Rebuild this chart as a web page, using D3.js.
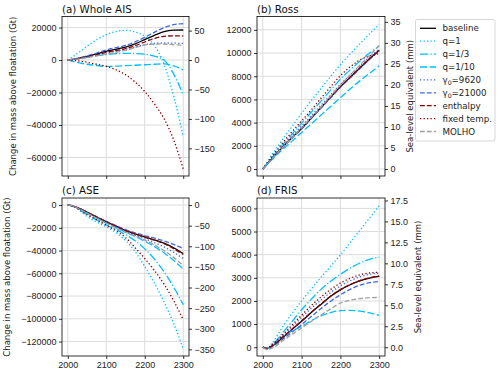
<!DOCTYPE html>
<html>
<head>
<meta charset="utf-8">
<script src="https://cdnjs.cloudflare.com/ajax/libs/d3/7.8.5/d3.min.js"></script>
<style>
    body { margin: 0; background: #fff; }
    svg { font-family: "DejaVu Sans", sans-serif; }
</style>
</head>
<body>
<svg id="chart" width="500" height="374"></svg>
<script>
// model years shared by every run
const years = [2000, 2010, 2025, 2050, 2075, 2100, 2125, 2150, 2175, 2200, 2225, 2250, 2275, 2300];
const series_names = ["baseline", "q=1", "q=1/3", "q=1/10", "γ0=9620", "γ0=21000", "enthalpy", "fixed temp.", "MOLHO"];

// change in mass above floatation (Gt), rows in the order of series_names
const ais = [
    [0, 300, 900, 2300, 3800, 5400, 6600, 8000, 10000, 12600, 15200, 17500, 18400, 18500],
    [0, 1500, 4000, 8500, 12500, 15600, 17500, 18300, 17300, 14600, 9000, -2500, -22000, -47000],
    [0, 300, 800, 1700, 2700, 3400, 3900, 4100, 4000, 3600, 2400, 0, -8500, -21400],
    [0, -600, -1500, -2600, -3400, -3900, -3800, -3500, -3200, -2900, -2600, -2400, -3600, -6000],
    [0, 250, 700, 1800, 3000, 4300, 5400, 6600, 8000, 9400, 10200, 10500, 10400, 10200],
    [0, 350, 1000, 2600, 4300, 6200, 7600, 9000, 11200, 14000, 17000, 20000, 21800, 22400],
    [0, 280, 800, 2000, 3300, 4700, 5800, 7000, 8800, 11100, 13300, 14600, 14900, 14850],
    [0, -150, -500, -1400, -2600, -3900, -6000, -9000, -13500, -19400, -27000, -36000, -49000, -67000],
    [0, 200, 600, 1500, 2600, 3700, 4700, 5900, 7600, 9300, 9800, 9800, 9400, 9100]
];
const ross = [
    [0, 390, 950, 1850, 2700, 3500, 4400, 5300, 6200, 7100, 7900, 8700, 9500, 10250],
    [0, 530, 1300, 2500, 3650, 4800, 5900, 6950, 8000, 9000, 9900, 10800, 11650, 12450],
    [0, 430, 1050, 2050, 3000, 3950, 4900, 5850, 6800, 7750, 8550, 9300, 10000, 10600],
    [0, 350, 850, 1650, 2400, 3150, 3900, 4650, 5400, 6150, 6900, 7600, 8250, 8900],
    [0, 400, 1000, 1950, 2850, 3700, 4600, 5500, 6400, 7300, 8100, 8900, 9650, 10350],
    [0, 380, 920, 1800, 2650, 3450, 4350, 5250, 6150, 7050, 7850, 8650, 9450, 10200],
    [0, 390, 960, 1870, 2720, 3520, 4420, 5320, 6220, 7120, 7920, 8720, 9500, 10200],
    [0, 470, 1150, 2200, 3200, 4150, 5100, 6100, 7100, 8050, 8800, 9400, 9750, 9950],
    [0, 380, 930, 1830, 2700, 3550, 4450, 5350, 6300, 7250, 8100, 8950, 9800, 10650]
];
const ase = [
    [0, -500, -2300, -6300, -10500, -14700, -18500, -22300, -25300, -27900, -30500, -33500, -37500, -42600],
    [0, -700, -3400, -10000, -14800, -19100, -24300, -31000, -41000, -54000, -68500, -85000, -104000, -126400],
    [0, -650, -3000, -8500, -13000, -17500, -21500, -26000, -31400, -38500, -47500, -58500, -72000, -87600],
    [0, -550, -2600, -7000, -11400, -15800, -19800, -23800, -27700, -31800, -36500, -42000, -48700, -56400],
    [0, -500, -2400, -6600, -10900, -15200, -19200, -23200, -26600, -29700, -33000, -36800, -41500, -47000],
    [0, -480, -2250, -6100, -10200, -14300, -18000, -21600, -24400, -26800, -29000, -31500, -34600, -38200],
    [0, -500, -2300, -6300, -10500, -14700, -18600, -22400, -25500, -28200, -30900, -34000, -38300, -43500],
    [0, -650, -3000, -8200, -13000, -17600, -22500, -28500, -37500, -47000, -57500, -69500, -84000, -100800],
    [0, -550, -2600, -7100, -11600, -16000, -20000, -23800, -27300, -30800, -35000, -40000, -46000, -52900]
];
const fris = [
    [0, -60, 60, 400, 760, 1120, 1500, 1850, 2200, 2480, 2700, 2870, 2990, 3060],
    [0, -80, 200, 850, 1450, 2000, 2520, 3020, 3500, 3990, 4520, 5050, 5580, 6110],
    [0, -70, 120, 600, 1100, 1620, 2080, 2500, 2850, 3150, 3420, 3640, 3800, 3890],
    [0, -60, 80, 450, 700, 900, 1150, 1350, 1500, 1580, 1590, 1560, 1480, 1380],
    [0, -50, 100, 480, 880, 1280, 1680, 2040, 2370, 2650, 2870, 3040, 3150, 3200],
    [0, -60, 40, 330, 650, 980, 1330, 1670, 1990, 2270, 2500, 2680, 2790, 2840],
    [0, -50, 70, 420, 780, 1140, 1520, 1870, 2210, 2490, 2710, 2880, 3000, 3070],
    [0, -40, 130, 520, 950, 1380, 1800, 2170, 2500, 2770, 2980, 3130, 3210, 3240],
    [0, -100, -30, 260, 550, 830, 1120, 1400, 1660, 1910, 2030, 2100, 2140, 2150]
];

// axis limits and ticks
const x_lims = [1985, 2315];
const x_ticks = [2000, 2100, 2200, 2300];
const ais_lims = [-71400, 26800];
const ross_lims = [-600, 13150];
const ase_lims = [-132700, 6200];
const fris_lims = [-380, 6450];
const ais_ticks = [-60000, -40000, -20000, 0, 20000];
const ross_ticks = [0, 2000, 4000, 6000, 8000, 10000, 12000];
const ase_ticks = [-120000, -100000, -80000, -60000, -40000, -20000, 0];
const fris_ticks = [0, 1000, 2000, 3000, 4000, 5000, 6000];
const ais_mm_ticks = [-150, -100, -50, 0, 50];
const ross_mm_ticks = [0, 5, 10, 15, 20, 25, 30, 35];
const ase_mm_ticks = [-350, -300, -250, -200, -150, -100, -50, 0];
const fris_mm_ticks = [0, 2.5, 5, 7.5, 10, 12.5, 15, 17.5];
const gt_per_mm = 362.5;

const colours = ["#000000", "#00bfff", "#00bfff", "#00bfff", "#4169e1", "#4169e1", "#8b0000", "#8b0000", "#a0a0a0"];
const dashes = [null, "1.3,2.2", "8.3,2.1,1.3,2.1", "7,2.6", "1.3,2.2", "4.8,2.1", "4.8,2.1", "1.3,2.2", "4.8,2.1"];

const svg = d3.select("#chart");

function drawPanel(p) {
    const x = d3.scaleLinear().domain(x_lims).range([p.left, p.right]);
    const y = d3.scaleLinear().domain(p.lims).range([p.bottom, p.top]);
    const y_mm = d3.scaleLinear().domain([p.lims[0] / gt_per_mm, p.lims[1] / gt_per_mm]).range([p.bottom, p.top]);
    const g = svg.append("g");

    // grid
    g.append("g").selectAll("line").data(x_ticks).enter().append("line")
        .attr("x1", d => x(d)).attr("x2", d => x(d))
        .attr("y1", p.top).attr("y2", p.bottom)
        .attr("stroke", "#dcdcdc").attr("stroke-width", 1);
    g.append("g").selectAll("line").data(p.ticks).enter().append("line")
        .attr("x1", p.left).attr("x2", p.right)
        .attr("y1", d => y(d)).attr("y2", d => y(d))
        .attr("stroke", "#dcdcdc").attr("stroke-width", 1);

    const clip_id = "clip" + p.id;
    svg.append("clipPath").attr("id", clip_id).append("rect")
        .attr("x", p.left).attr("y", p.top)
        .attr("width", p.right - p.left).attr("height", p.bottom - p.top);

    const line = d3.line()
        .x((d, i) => x(years[i]))
        .y(d => y(d))
        .curve(d3.curveMonotoneX);

    g.append("g").attr("clip-path", `url(#${clip_id})`)
        .selectAll("path").data(p.values).enter().append("path")
        .attr("d", d => line(d))
        .attr("fill", "none")
        .attr("stroke", (d, i) => colours[i])
        .attr("stroke-width", 1.3)
        .attr("stroke-dasharray", (d, i) => dashes[i]);

    // axes
    const left_axis = d3.axisLeft(y).tickValues(p.ticks).tickSizeOuter(0).tickSize(3).tickPadding(2.5).tickFormat(d3.format("d"));
    const right_axis = d3.axisRight(y_mm).tickValues(p.mm_ticks).tickSizeOuter(0).tickSize(3).tickPadding(2.5).tickFormat(p.mm_format);
    const bottom_axis = d3.axisBottom(x).tickValues(x_ticks).tickSizeOuter(0).tickSize(3).tickPadding(2.5).tickFormat(p.x_labels ? d3.format("d") : "");

    [g.append("g").attr("transform", `translate(${p.left},0)`).call(left_axis),
        g.append("g").attr("transform", `translate(${p.right},0)`).call(right_axis),
        g.append("g").attr("transform", `translate(0,${p.bottom})`).call(bottom_axis)
    ].forEach(function (a) {
        a.select(".domain").remove();
        a.selectAll("line").attr("stroke", "#000").attr("stroke-width", 0.8);
        a.selectAll("text").attr("font-size", 9).attr("fill", "#222");
    });

    g.append("rect")
        .attr("x", p.left).attr("y", p.top)
        .attr("width", p.right - p.left).attr("height", p.bottom - p.top)
        .attr("fill", "none").attr("stroke", "#000").attr("stroke-width", 0.8);

    g.append("text").attr("x", p.left).attr("y", p.top - 4)
        .attr("font-size", 10.3).attr("fill", "#111").text(p.title);

    const mid = (p.top + p.bottom) / 2;
    if (p.left_label) {
        g.append("text")
            .attr("transform", `translate(${p.left_label},${mid}) rotate(-90)`)
            .attr("text-anchor", "middle").attr("font-size", 8.5).attr("fill", "#222")
            .text("Change in mass above floatation (Gt)");
    }
    if (p.right_label) {
        g.append("text")
            .attr("transform", `translate(${p.right_label},${mid}) rotate(-90)`)
            .attr("text-anchor", "middle").attr("font-size", 8.5).attr("fill", "#222")
            .text("Sea-level equivalent (mm)");
    }
}

const panels = [
    {id: "a", title: "(a) Whole AIS", values: ais, lims: ais_lims, ticks: ais_ticks, mm_ticks: ais_mm_ticks, mm_format: d3.format("d"),
        left: 62, right: 189, top: 16.5, bottom: 176, x_labels: false, left_label: 16, right_label: null},
    {id: "b", title: "(b) Ross", values: ross, lims: ross_lims, ticks: ross_ticks, mm_ticks: ross_mm_ticks, mm_format: d3.format("d"),
        left: 257, right: 385, top: 16.5, bottom: 176, x_labels: false, left_label: null, right_label: 413},
    {id: "c", title: "(c) ASE", values: ase, lims: ase_lims, ticks: ase_ticks, mm_ticks: ase_mm_ticks, mm_format: d3.format("d"),
        left: 62, right: 189, top: 198, bottom: 356, x_labels: true, left_label: 10, right_label: null},
    {id: "d", title: "(d) FRIS", values: fris, lims: fris_lims, ticks: fris_ticks, mm_ticks: fris_mm_ticks, mm_format: d3.format(".1f"),
        left: 257, right: 385, top: 198, bottom: 356, x_labels: true, left_label: null, right_label: 421}
];
panels.forEach(drawPanel);

// legend
const legend = svg.append("g");
legend.append("rect")
    .attr("x", 415.5).attr("y", 19.5).attr("width", 79.5).attr("height", 121.5)
    .attr("rx", 2).attr("fill", "#fff").attr("fill-opacity", 0.8)
    .attr("stroke", "#cccccc").attr("stroke-width", 0.8);
series_names.forEach(function (name, i) {
    const ly = 28.3 + i * 12.9;
    legend.append("line")
        .attr("x1", 420).attr("x2", 436).attr("y1", ly).attr("y2", ly)
        .attr("stroke", colours[i]).attr("stroke-width", 1.3)
        .attr("stroke-dasharray", dashes[i]);
    const t = legend.append("text").attr("x", 442.5).attr("y", ly).attr("dy", "0.35em")
        .attr("font-size", 8.7).attr("fill", "#222");
    if (name.startsWith("γ0")) {
        t.append("tspan").text("γ");
        t.append("tspan").attr("font-size", 6.2).attr("dy", 1.8).text("0");
        t.append("tspan").attr("dy", -1.8).text(name.slice(2));
    } else {
        t.text(name);
    }
});
</script>
</body>
</html>
